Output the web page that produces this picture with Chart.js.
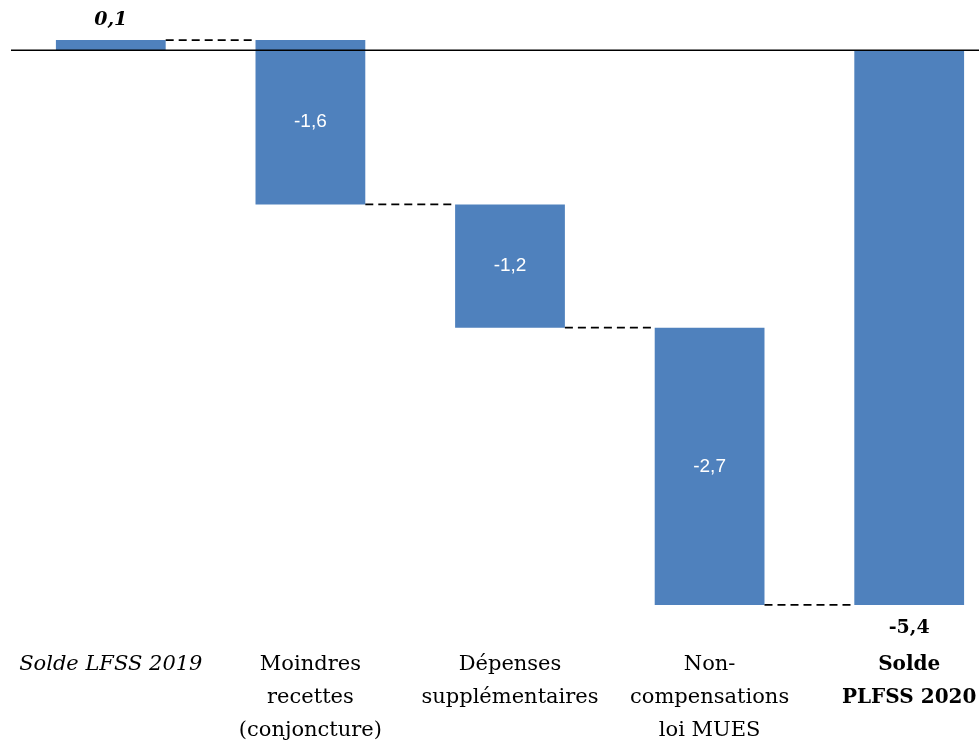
<!DOCTYPE html>
<html>
<head>
<meta charset="utf-8">
<script src="https://cdn.jsdelivr.net/npm/chart.js@4"></script>
<style>
  html, body { margin: 0; padding: 0; background: #fff; overflow: hidden; }
  #wrap { width: 1009px; height: 740px; }
</style>
</head>
<body>
<div id="wrap"><canvas id="soldeChart"></canvas></div>
<script>
// Décomposition du solde (Md€)
const categories = [
    ['Solde LFSS 2019'],
    ['Moindres', 'recettes', '(conjoncture)'],
    ['Dépenses', 'supplémentaires'],
    ['Non-', 'compensations', 'loi MUES'],
    ['Solde', 'PLFSS 2020']
];
const deltas = [0.1, -1.6, -1.2, -2.7, -5.4];
const isTotal = [false, false, false, false, true];
const valueLabels = ['0,1', '-1,6', '-1,2', '-2,7', '-5,4'];

// bars flottantes : [début, fin]
let running = 0;
const ranges = deltas.map((d, i) => {
    if (isTotal[i]) { running = d; return [0, d]; }
    const start = running;
    running += d;
    return [start, running];
});

const serif = '"DejaVu Serif", serif';

const waterfallExtras = {
    id: 'waterfallExtras',
    afterDatasetsDraw(chart) {
        const { ctx, scales: { x, y }, chartArea } = chart;
        const bars = chart.getDatasetMeta(0).data;
        ctx.save();
        // ligne du zéro
        ctx.strokeStyle = '#000';
        ctx.lineWidth = 1.5;
        ctx.beginPath();
        ctx.moveTo(chartArea.left, y.getPixelForValue(0));
        ctx.lineTo(chartArea.right, y.getPixelForValue(0));
        ctx.stroke();
        // connecteurs pointillés
        ctx.lineWidth = 1.8;
        ctx.setLineDash([8, 5]);
        for (let i = 0; i < bars.length - 1; i++) {
            const lvl = y.getPixelForValue(ranges[i][1]);
            const x0 = bars[i].x + bars[i].width / 2;
            const x1 = bars[i + 1].x - bars[i + 1].width / 2;
            ctx.beginPath();
            ctx.moveTo(x0, lvl);
            ctx.lineTo(x1, lvl);
            ctx.stroke();
        }
        ctx.setLineDash([]);
        // étiquettes
        ctx.textAlign = 'center';
        ctx.textBaseline = 'middle';
        bars.forEach((b, i) => {
            const top = Math.min(b.y, b.base);
            const bottom = Math.max(b.y, b.base);
            if (i === 0) {
                ctx.font = 'italic bold 19px ' + serif;
                ctx.fillStyle = '#000';
                ctx.fillText(valueLabels[i], b.x, top - 20);
            } else if (isTotal[i]) {
                ctx.font = 'bold 19px ' + serif;
                ctx.fillStyle = '#000';
                ctx.fillText(valueLabels[i], b.x, bottom + 23);
            } else {
                ctx.font = '19px "Liberation Sans", sans-serif';
                ctx.fillStyle = '#fff';
                ctx.fillText(valueLabels[i], b.x, (top + bottom) / 2);
            }
        });
        ctx.restore();
    }
};

const ctx = document.getElementById('soldeChart').getContext('2d');
const soldeChart = new Chart(ctx, {
    type: 'bar',
    data: {
        labels: categories,
        datasets: [{
            data: ranges,
            backgroundColor: '#4F81BD',
            borderWidth: 0,
            categoryPercentage: 1,
            barPercentage: 0.55
        }]
    },
    options: {
        responsive: true,
        maintainAspectRatio: false,
        animation: false,
        layout: { padding: { left: 11, right: 0, top: 0, bottom: 0 } },
        plugins: { legend: { display: false }, tooltip: { enabled: false } },
        scales: {
            x: {
                grid: { display: false },
                border: { display: false },
                afterFit: (scale) => { scale.height = 95; },
                ticks: {
                    autoSkip: false,
                    maxRotation: 0,
                    padding: -5,
                    color: '#000',
                    font: (c) => ({
                        family: serif,
                        size: c.index === categories.length - 1 ? 20 : 21,
                        lineHeight: c.index === categories.length - 1 ? 1.65 : 1.57,
                        style: c.index === 0 ? 'italic' : 'normal',
                        weight: c.index === categories.length - 1 ? 'bold' : 'normal'
                    })
                }
            },
            y: {
                display: false,
                min: -5.79,
                max: 0.49
            }
        }
    },
    plugins: [waterfallExtras]
});
</script>
</body>
</html>
